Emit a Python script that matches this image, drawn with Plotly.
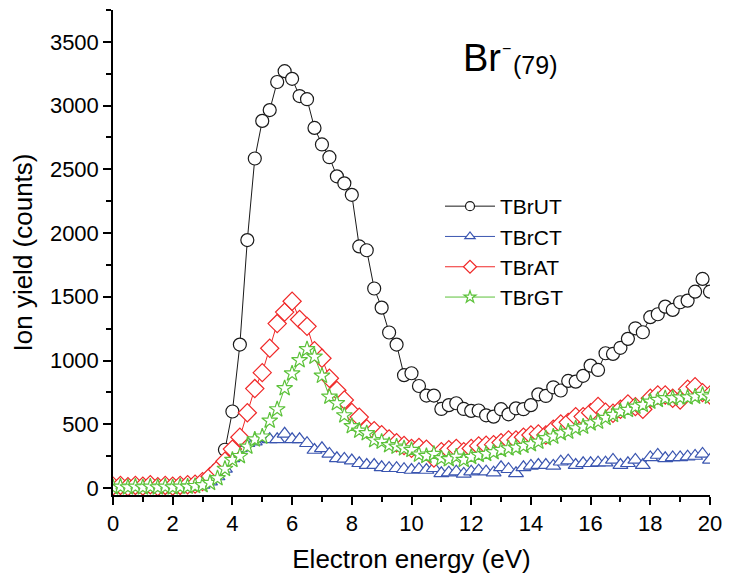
import numpy as np
import plotly.graph_objects as go

energy = [round(0.25 * i, 2) for i in range(81)]

tbrut = [10, 15, 10, 15, 10, 15, 10, 15, 10, 15, 20, 30,
         45, 85, 145, 300, 600, 1125, 1945, 2585, 2880, 2965, 3185, 3270,
         3210, 3075, 3050, 2825, 2695, 2595, 2445, 2390, 2300, 1895, 1865, 1565,
         1415, 1220, 1125, 885, 900, 800, 725, 725, 620, 650, 665, 620,
         605, 608, 570, 560, 618, 578, 625, 618, 650, 735, 722, 790,
         765, 840, 834, 880, 960, 926, 1057, 1052, 1100, 1170, 1253, 1222,
         1340, 1363, 1423, 1397, 1457, 1470, 1540, 1640, 1540]

tbrct = [5, 5, 0, 5, 5, 10, 5, 5, 10, 5, 10, 15,
         25, 50, 90, 150, 233, 311, 351, 363, 390, 382, 382, 425,
         382, 382, 351, 298, 311, 267, 233, 228, 215, 194, 180, 180,
         162, 155, 155, 147, 141, 147, 141, 155, 115, 120, 128, 110,
         128, 136, 128, 120, 162, 147, 115, 162, 173, 180, 180, 173,
         206, 214, 180, 194, 194, 199, 199, 220, 180, 194, 220, 180,
         240, 259, 233, 240, 240, 246, 251, 267, 220]

tbrat = [15, 20, 10, 20, 15, 25, 10, 20, 15, 20, 25, 30,
         50, 90, 145, 210, 305, 398, 590, 780, 905, 1096, 1290, 1380,
         1465, 1322, 1268, 1078, 1018, 861, 766, 690, 592, 556, 465, 450,
         418, 385, 355, 333, 311, 318, 305, 235, 285, 300, 311, 285,
         310, 330, 335, 340, 356, 377, 377, 398, 416, 424, 416, 461,
         502, 515, 560, 560, 591, 640, 595, 586, 618, 659, 638, 618,
         704, 730, 730, 704, 690, 775, 795, 748, 730]

tbrgt = [5, 10, 5, 10, 5, 10, 5, 10, 5, 10, 10, 15,
         22, 40, 76, 150, 220, 250, 324, 380, 403, 528, 617, 782,
         898, 1002, 1088, 1030, 880, 716, 665, 570, 485, 450, 429, 375,
         363, 335, 324, 311, 298, 262, 251, 267, 233, 225, 246, 220,
         243, 259, 267, 280, 298, 311, 316, 330, 343, 363, 390, 403,
         429, 442, 468, 481, 507, 520, 550, 573, 599, 612, 638, 651,
         677, 690, 704, 704, 710, 710, 717, 730, 717]

series_names = ["TBrUT", "TBrCT", "TBrAT", "TBrGT"]
x_ticks = list(range(0, 21, 2))
y_ticks = list(range(0, 3501, 500))

FONT = "Liberation Sans, Arial, sans-serif"

styles = [
    dict(color="#1a1a1a", symbol="circle", size=13, lsize=9),
    dict(color="#3a55b0", symbol="triangle-up", size=13, lsize=9),
    dict(color="#f02828", symbol="diamond", size=14, lsize=10),
    dict(color="#5cc23a", symbol="star", size=12, lsize=9),
]

fig = go.Figure()
for name, ys, st in zip(series_names, [tbrut, tbrct, tbrat, tbrgt], styles):
    fig.add_trace(go.Scatter(
        x=energy, y=ys, name=name, mode="lines+markers", showlegend=False,
        line=dict(color=st["color"], width=1),
        marker=dict(symbol=st["symbol"], size=st["size"], color="white",
                    line=dict(color=st["color"], width=1.2)),
    ))
# legend entries (smaller legend symbols, as in the original)
for name, st in zip(series_names, styles):
    fig.add_trace(go.Scatter(
        x=[None], y=[None], name=name, mode="lines+markers", showlegend=True,
        line=dict(color=st["color"], width=1),
        marker=dict(symbol=st["symbol"], size=st["lsize"], color="white",
                    line=dict(color=st["color"], width=1.2)),
    ))

axis_common = dict(
    showline=True, linecolor="black", linewidth=1.5,
    ticks="outside", ticklen=8, tickwidth=1.5, tickcolor="black",
    showgrid=False, zeroline=False, mirror=False, automargin=False,
    tickfont=dict(family=FONT, size=22, color="black"),
)

fig.update_xaxes(
    range=[0, 20], tickvals=x_ticks, ticktext=[str(v) for v in x_ticks],
    minor=dict(dtick=1, ticks="outside", ticklen=5, tickwidth=1.5, tickcolor="black"),
    title=dict(text="Electron energy (eV)", font=dict(family=FONT, size=26, color="black")),
    **axis_common,
)
fig.update_yaxes(
    range=[-55, 3750], tickvals=y_ticks, ticktext=[str(v) for v in y_ticks],
    minor=dict(dtick=250, ticks="outside", ticklen=5, tickwidth=1.5, tickcolor="black"),
    title=dict(text="Ion yield (counts)", font=dict(family=FONT, size=26, color="black")),
    **axis_common,
)

# positions below are given in screen pixels of the plot area (x: 113..710, y: 10..495)
def px(x):
    return (x - 113) / 597

def py(y):
    return (495 - y) / 485

fig.add_annotation(
    xref="paper", yref="paper", x=px(461), y=py(58),
    xanchor="left", yanchor="middle", showarrow=False,
    text="Br", font=dict(family=FONT, size=38, color="black"),
)
fig.add_annotation(
    xref="paper", yref="paper", x=px(512), y=py(48),
    xanchor="right", yanchor="middle", showarrow=False, borderpad=0,
    text="\u2212", font=dict(family=FONT, size=16, color="black"),
)
fig.add_annotation(
    xref="paper", yref="paper", x=px(512), y=py(65),
    xanchor="left", yanchor="middle", showarrow=False, borderpad=0,
    text="(79)", font=dict(family=FONT, size=25, color="black"),
)

# the page adds an 8px body margin; compensate so the plot lands where intended
fig.update_layout(
    width=722, height=576,
    margin=dict(l=105, r=20, t=2, b=89),
    paper_bgcolor="white", plot_bgcolor="white",
    showlegend=True,
    legend=dict(
        x=px(440), y=py(186), xanchor="left", yanchor="top",
        bgcolor="rgba(0,0,0,0)", font=dict(family=FONT, size=21, color="black"),
        itemwidth=50, tracegroupgap=0,
    ),
)

fig.write_html("out.html")
